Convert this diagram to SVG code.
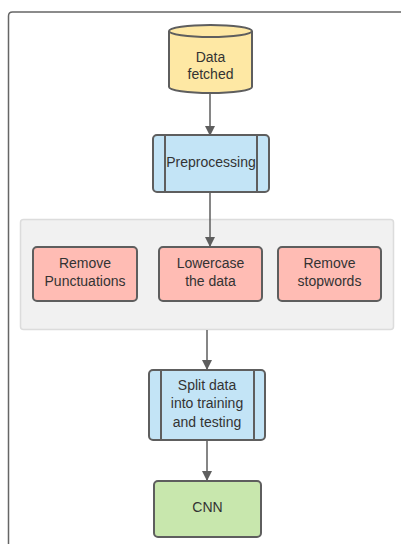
<svg xmlns="http://www.w3.org/2000/svg" width="401" height="544" viewBox="0 0 401 544">
<style>
text{font-family:"Liberation Sans",Arial,sans-serif;font-size:14px;fill:#333;text-anchor:middle}
.n{stroke:#5e5e5e;stroke-width:2}
.c{stroke:#5e5e5e;stroke-width:1.5;fill:none}
</style>
<defs>
<marker id="ah" markerWidth="10" markerHeight="10" refX="9" refY="5" orient="auto" markerUnits="userSpaceOnUse">
<path d="M0,0 L10,5 L0,10 Z" fill="#5e5e5e"/>
</marker>
</defs>
<rect width="401" height="544" fill="#fff"/>
<g id="frame"><path d="M8.5,560 V16 Q8.5,12 12.5,12 H420" fill="none" stroke="#666" stroke-width="1.5"/></g>
<g id="group"><rect x="20.5" y="219.5" width="373" height="110" rx="3" fill="#f1f1f1" stroke="#dcdcdc" stroke-width="1.5"/></g>
<g id="connectors">
<path class="c" d="M210,93 V135" marker-end="url(#ah)"/>
<path class="c" d="M210,192 V246" marker-end="url(#ah)"/>
<path class="c" d="M207,330 V369" marker-end="url(#ah)"/>
<path class="c" d="M207,440 V480" marker-end="url(#ah)"/>
</g>
<g id="data-fetched">
<path class="n" d="M169,31 V87 A41.5,6 0 0 0 252,87 V31 A41.5,6 0 0 0 169,31 Z" fill="#fee8a4"/>
<path class="n" d="M169,31 A41.5,6 0 0 0 252,31" fill="none"/>
<text x="210.5" y="62">Data</text>
<text x="210.5" y="79">fetched</text>
</g>
<g id="preprocessing">
<rect class="n" x="153" y="135" width="116" height="57" rx="4" fill="#c3e4f6"/>
<path class="n" d="M165,135 V192 M257,135 V192"/>
<text x="211" y="167">Preprocessing</text>
</g>
<g id="remove-punctuations">
<rect class="n" x="33" y="247" width="104" height="54" rx="4" fill="#ffbcb4"/>
<text x="85" y="268">Remove</text>
<text x="85" y="286">Punctuations</text>
</g>
<g id="lowercase">
<rect class="n" x="159" y="247" width="103" height="54" rx="4" fill="#ffbcb4"/>
<text x="210.5" y="268">Lowercase</text>
<text x="210.5" y="286">the data</text>
</g>
<g id="remove-stopwords">
<rect class="n" x="278" y="247" width="103" height="54" rx="4" fill="#ffbcb4"/>
<text x="329.5" y="268">Remove</text>
<text x="329.5" y="286">stopwords</text>
</g>
<g id="split">
<rect class="n" x="149" y="370" width="116" height="70" rx="4" fill="#c3e4f6"/>
<path class="n" d="M161,370 V440 M254,370 V440"/>
<text x="207" y="390">Split data</text>
<text x="207" y="408">into training</text>
<text x="207" y="427">and testing</text>
</g>
<g id="cnn">
<rect class="n" x="154" y="481" width="107" height="56" rx="4" fill="#c8e7ad"/>
<text x="207.5" y="512">CNN</text>
</g>
</svg>
